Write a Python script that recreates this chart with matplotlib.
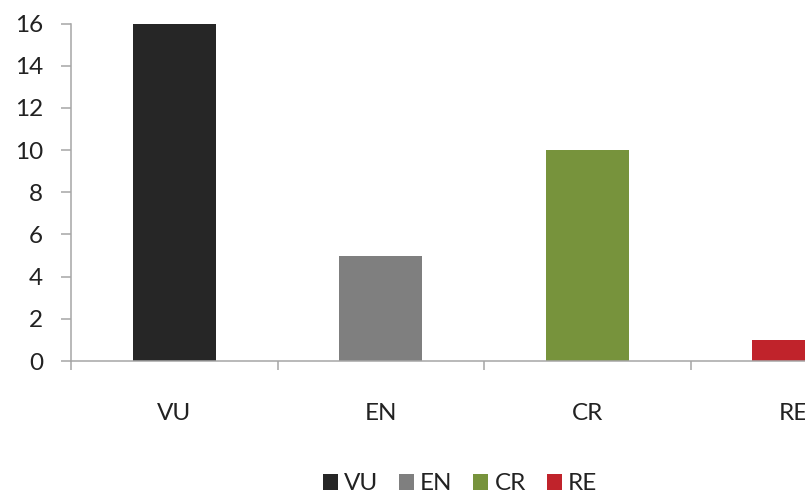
import numpy as np
import matplotlib.pyplot as plt

# threat categories and counts
categories = ["VU", "EN", "CR", "RE"]
counts = [16, 5, 10, 1]
colors = ["#262626", "#7f7f7f", "#77933c", "#c0232b"]

plt.rcParams['font.family'] = ['Lato', 'DejaVu Sans']
fs = 17.5

fig = plt.figure(figsize=(8.05, 4.95), dpi=100)
# the original chart is cropped on the right, so the axes run past the figure edge
ax = fig.add_axes([71 / 805, 134 / 495, 826 / 805, 337.5 / 495])

x = np.arange(len(categories))
bars = ax.bar(x, counts, width=0.4, color=colors, label=categories)

ax.set_xlim(-0.5, len(categories) - 0.5)
ax.set_ylim(0, 16)
ax.set_yticks(np.arange(0, 17, 2))

ax.set_xticks(x)
ax.set_xticklabels(categories)
ax.set_xticks(np.arange(-0.5, len(categories), 1), minor=True)

grey = "#a6a6a6"
for side in ["top", "right"]:
    ax.spines[side].set_visible(False)
for side in ["left", "bottom"]:
    ax.spines[side].set_color(grey)
    ax.spines[side].set_linewidth(1.1)

ax.tick_params(axis="y", length=7, width=1.1, color=grey, pad=13,
               labelsize=fs, labelcolor="#222222")
ax.tick_params(axis="x", which="major", length=0, pad=30,
               labelsize=fs, labelcolor="#222222")
ax.tick_params(axis="x", which="minor", length=6.5, width=1.1, color=grey)

ax.legend(handles=list(bars), labels=categories, loc="center",
          bbox_to_anchor=(460 / 805, 11 / 495), bbox_transform=fig.transFigure,
          ncol=4, frameon=False, fontsize=fs, handlelength=0.62,
          handleheight=0.62, handletextpad=0.25, columnspacing=0.85,
          labelcolor="#222222")

fig.savefig("out.png", dpi=100)
